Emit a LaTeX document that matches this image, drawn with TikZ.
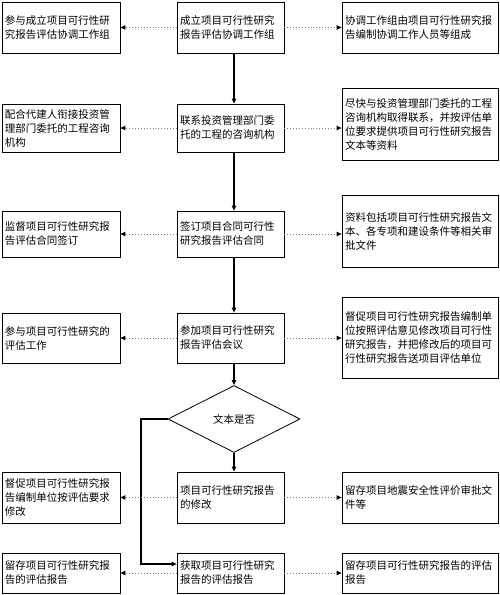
\documentclass[tikz,border=0pt]{standalone}
\usepackage{fontspec}
\newfontfamily\cjk{Noto Sans CJK SC}
\usetikzlibrary{arrows.meta, positioning, shapes.geometric}

\tikzset{
  box/.style={draw, line width=0.8pt, rectangle, inner xsep=3pt, inner ysep=0pt,
    align=left, font=\cjk\fontsize{10.5pt}{14pt}\selectfont},
  lbox/.style={box, minimum width=118pt, text width=112pt},
  mbox/.style={box, minimum width=107pt, text width=101pt},
  rbox/.style={box, minimum width=156pt, text width=150pt},
  flow/.style={-{Triangle[length=5pt,width=4.5pt]}, line width=1.1pt},
  aside/.style={-{Triangle[length=5pt,width=4.5pt,color=black]}, gray, dotted, line width=0.9pt},
}

\begin{document}
\begin{tikzpicture}[x=1pt, y=-1pt]
  \useasboundingbox (0,0) rectangle (500,595);

  % middle column
  \node[mbox, minimum height=51pt] (m1) at (230.5,27.5) {成立项目可行性研究\\报告评估协调工作组};
  \node[mbox, minimum height=48pt] (m2) at (230.5,128) {联系投资管理部门委\\托的工程的咨询机构};
  \node[mbox, minimum height=46pt] (m3) at (230.5,234) {签订项目合同可行性\\研究报告评估合同};
  \node[mbox, minimum height=50pt] (m4) at (230.5,338) {参加项目可行性研究\\报告评估会议};
  \node[draw, diamond, line width=0.8pt, inner sep=0pt, minimum width=132pt, minimum height=67pt,
    font=\cjk\fontsize{10.5pt}{14pt}\selectfont] (dm) at (234,419) {文本是否};
  \node[mbox, minimum height=51pt] (m5) at (230.5,497.5) {项目可行性研究报告\\的修改};
  \node[mbox, minimum height=40pt] (m6) at (230.5,573) {获取项目可行性研究\\报告的评估报告};

  % left column
  \node[lbox, minimum height=51pt] (l1) at (61,27.5) {参与成立项目可行性研\\究报告评估协调工作组};
  \node[lbox, minimum height=48pt] (l2) at (61,128) {配合代建人衔接投资管\\理部门委托的工程咨询\\机构};
  \node[lbox, minimum height=46pt] (l3) at (61,234) {监督项目可行性研究报\\告评估合同签订};
  \node[lbox, minimum height=50pt] (l4) at (61,338) {参与项目可行性研究的\\评估工作};
  \node[lbox, minimum height=51pt] (l5) at (61,497.5) {督促项目可行性研究报\\告编制单位按评估要求\\修改};
  \node[lbox, minimum height=40pt] (l6) at (61,573) {留存项目可行性研究报\\告的评估报告};

  % right column
  \node[rbox, minimum height=51pt] (r1) at (420,27.5) {协调工作组由项目可行性研究报\\告编制协调工作人员等组成};
  \node[rbox, minimum height=72pt] (r2) at (420,124) {尽快与投资管理部门委托的工程\\咨询机构取得联系，并按评估单\\位要求提供项目可行性研究报告\\文本等资料};
  \node[rbox, minimum height=72pt] (r3) at (420,231) {资料包括项目可行性研究报告文\\本、各专项和建设条件等相关审\\批文件};
  \node[rbox, minimum height=81pt] (r4) at (420,337.5) {督促项目可行性研究报告编制单\\位按照评估意见修改项目可行性\\研究报告，并把修改后的项目可\\行性研究报告送项目评估单位};
  \node[rbox, minimum height=51pt] (r5) at (420,497.5) {留存项目地震安全性评价审批文\\件等};
  \node[rbox, minimum height=40pt] (r6) at (420,573) {留存项目可行性研究报告的评估\\报告};

  % main flow
  \draw[flow] (m1.south -| dm) -- (m2.north -| dm);
  \draw[flow] (m2.south -| dm) -- (m3.north -| dm);
  \draw[flow] (m3.south -| dm) -- (m4.north -| dm);
  \draw[flow] (m4.south -| dm) -- (dm.north);
  \draw[flow] (dm.south) -- (m5.north -| dm);
  \coordinate (turn) at (141,419);
  \draw[flow] (dm.west) -- (turn) |- ([yshift=9pt]m6.west);

  % side arrows
  \foreach \i in {1,...,6}{
    \draw[aside] (m\i.west) -- (m\i.west -| l\i.east);
    \draw[aside] (m\i.east) -- (m\i.east -| r\i.west);
  }
\end{tikzpicture}
\end{document}
